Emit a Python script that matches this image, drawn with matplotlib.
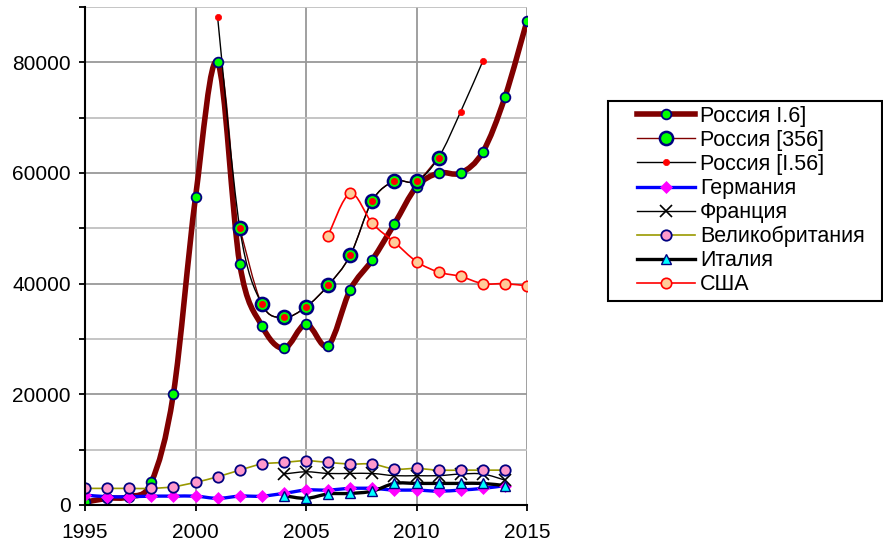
import numpy as np
import matplotlib.pyplot as plt
from matplotlib.path import Path
from matplotlib.patches import PathPatch, Rectangle
from matplotlib.lines import Line2D

plt.rcParams['font.family'] = ['Liberation Sans', 'DejaVu Sans']

# --- data ---
years_ru = list(range(1995, 2016))
ru_i6 = [500, 1200, 1500, 4100, 20100, 55600, 80000, 43600, 32400, 28300, 32700,
         28800, 38900, 44300, 50800, 57500, 60000, 60000, 63800, 73700, 87500]

years_356 = list(range(2002, 2012))
ru_356 = [50100, 36300, 33900, 35800, 39700, 45100, 55000, 58500, 58500, 62800]

years_156 = list(range(2001, 2014))
ru_156 = [88200, 50100, 36300, 33900, 35800, 39700, 45100, 55000, 58500, 58500,
          62800, 71100, 80200]

years_old = list(range(1995, 2015))
germany = [1800, 1500, 1500, 1600, 1600, 1600, 1200, 1600, 1600, 2100,
           2700, 2700, 3000, 3000, 2700, 2700, 2500, 2700, 3000, 3500]
britain = [3000, 3000, 3000, 3000, 3300, 4100, 5100, 6300, 7400, 7700,
           8000, 7700, 7400, 7400, 6500, 6600, 6300, 6300, 6300, 6300]

years_new = list(range(2004, 2015))
france = [5600, 6000, 5700, 5700, 5700, 5300, 5300, 5300, 5600, 5600, 4500]
italy = [1700, 1200, 2000, 2100, 2500, 3900, 3900, 3900, 3900, 3900, 3500]

years_usa = list(range(2006, 2016))
usa = [48700, 56300, 50900, 47500, 44000, 42100, 41300, 40000, 40000, 39600]

labels = ['Россия I.6]', 'Россия [356]', 'Россия [I.56]', 'Германия',
          'Франция', 'Великобритания', 'Италия', 'США']


def smooth_path(x, y):
    # bezier curve through the points, like a "smoothed line" in a spreadsheet
    pts = np.column_stack([x, y]).astype(float)
    ext = np.vstack([pts[0], pts, pts[-1]])
    verts = [pts[0]]
    codes = [Path.MOVETO]
    for i in range(len(pts) - 1):
        p0, p1, p2, p3 = ext[i], ext[i + 1], ext[i + 2], ext[i + 3]
        verts += [p1 + (p2 - p0) / 6, p2 - (p3 - p1) / 6, p2]
        codes += [Path.CURVE4] * 3
    return Path(verts, codes)


fig = plt.figure(figsize=(8.83, 5.44), dpi=100)
ax = fig.add_axes([85 / 883, 39 / 544, 442 / 883, 498 / 544])

handles = []


def series(x, y, color, lw, marker, ms, mfc, mec, mew, label, z):
    ax.add_patch(PathPatch(smooth_path(x, y), fill=False, edgecolor=color,
                           lw=lw, zorder=z, capstyle='round', joinstyle='round'))
    ax.plot(x, y, ls='none', marker=marker, ms=ms, mfc=mfc, mec=mec, mew=mew,
            zorder=z + 10)
    handles.append(Line2D([], [], color=color, lw=lw, marker=marker, ms=ms,
                          mfc=mfc, mec=mec, mew=mew, label=label))


series(years_ru, ru_i6, '#800000', 4.0, 'o', 7, '#00ff00', '#000080', 1.3, labels[0], 2)
series(years_356, ru_356, '#800000', 1.0, 'o', 9.5, '#00ff00', '#000080', 1.8, labels[1], 3)
series(years_156, ru_156, 'black', 1.0, 'o', 4.5, '#ff0000', '#ff0000', 0.5, labels[2], 4)
series(years_old, germany, '#0000ff', 2.4, 'D', 6.5, '#ff00ff', '#ff00ff', 0.5, labels[3], 5)
series(years_new, france, 'black', 1.0, 'x', 8, 'black', 'black', 1.2, labels[4], 6)
series(years_old, britain, '#999900', 1.2, 'o', 7.5, '#ff99cc', '#000080', 1.3, labels[5], 7)
series(years_new, italy, 'black', 2.4, '^', 7.5, '#00ffff', '#000080', 1.0, labels[6], 8)
series(years_usa, usa, '#ff0000', 1.2, 'o', 7.5, '#ffcc99', '#ff0000', 1.2, labels[7], 9)

ax.set_xlim(1995, 2015)
ax.set_ylim(0, 90000)
ax.set_xticks(range(1995, 2016, 5))
ax.set_yticks(range(0, 90001, 20000))
ax.set_yticks(range(10000, 90001, 20000), minor=True)
ax.grid(True, which='major', color='#999999', lw=1.3, zorder=0)
ax.grid(True, which='minor', axis='y', color='#c0c0c0', lw=1.3, zorder=0)
ax.set_axisbelow(True)
for s in ['top', 'right']:
    ax.spines[s].set_visible(False)
for s in ['left', 'bottom']:
    ax.spines[s].set_linewidth(1.5)
    ax.spines[s].set_zorder(30)
ax.tick_params(which='both', direction='out', length=4.3, width=1.3, labelsize=15)
ax.tick_params(axis='x', pad=9)
ax.tick_params(axis='y', pad=6)

fig.add_artist(Rectangle((608 / 883, 1 - 301 / 544), 274 / 883, 200 / 544,
                         transform=fig.transFigure, fill=False,
                         edgecolor='black', lw=1.5))
fig.legend(handles=handles, loc='upper left', bbox_to_anchor=(637 / 883, 1 - 106 / 544),
           frameon=False, fontsize=15.5, borderpad=0, borderaxespad=0,
           handlelength=2.7, handletextpad=0.23, labelspacing=0.14, numpoints=1)

fig.savefig('out.png', dpi=100)
